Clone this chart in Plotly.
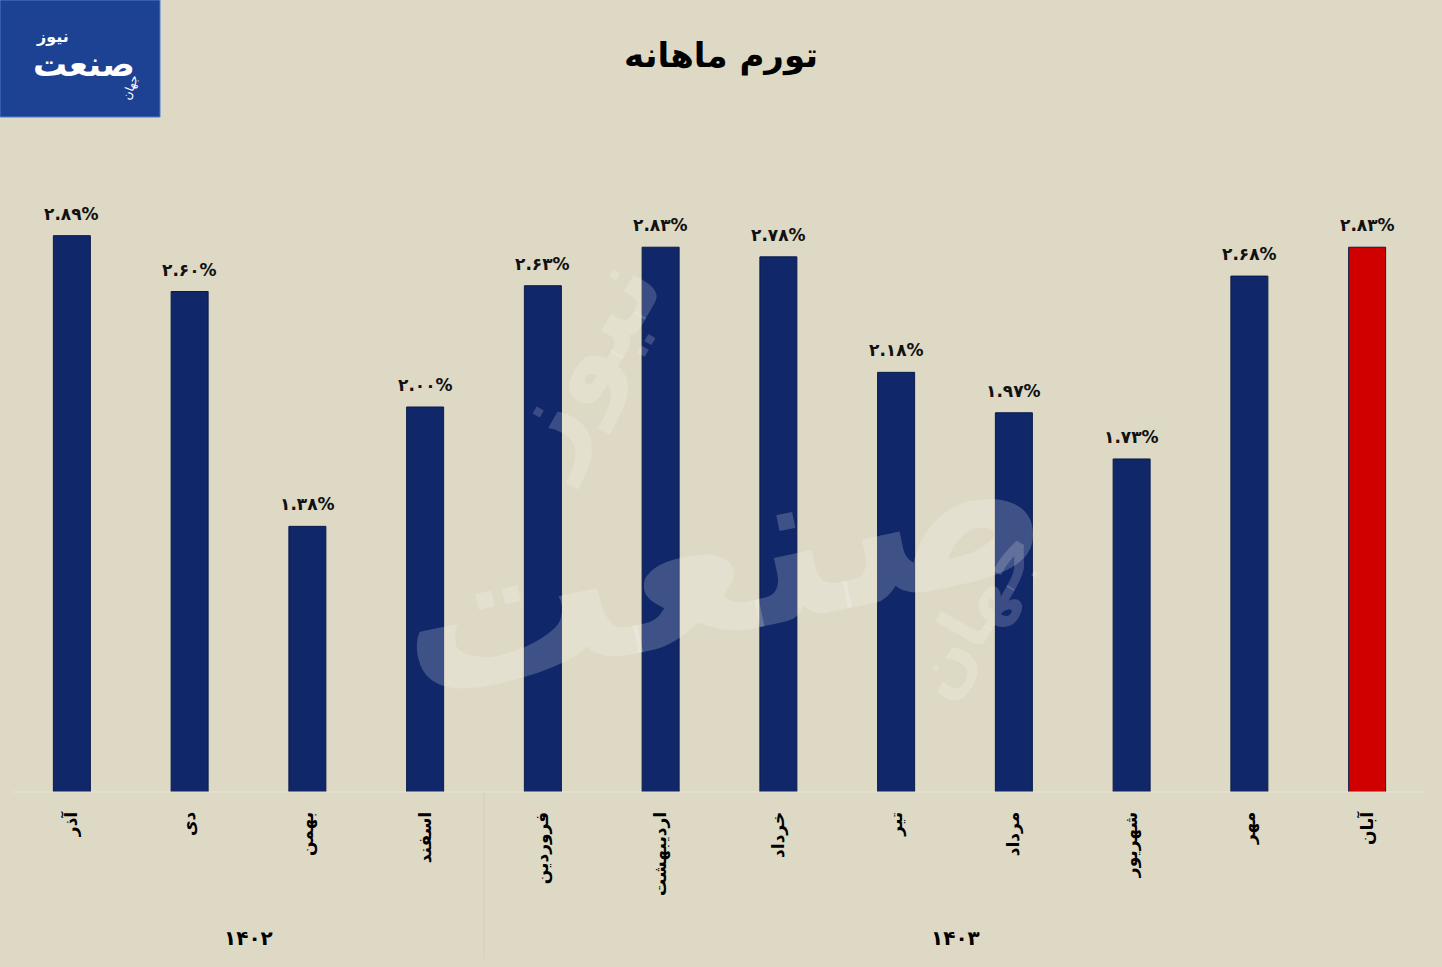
import plotly.graph_objects as go

months = ["آذر", "دی", "بهمن", "اسفند", "فروردین", "اردیبهشت", "خرداد", "تیر", "مرداد", "شهریور", "مهر", "آبان"]
values = [2.89, 2.60, 1.38, 2.00, 2.63, 2.83, 2.78, 2.18, 1.97, 1.73, 2.68, 2.83]
colors = ["#10276a"] * 11 + ["#d00000"]
groups = ["۱۴۰۲", "۱۴۰۳"]
group_centers = [1.5, 7.5]
title = "تورم ماهانه"

BG = "#DDD9C4"
FONT = "DejaVu Sans"

def fa_digits(s):
    return s.translate(str.maketrans("0123456789", "۰۱۲۳۴۵۶۷۸۹"))

labels = [fa_digits(f"{v:.2f}") + "%" for v in values]

fig = go.Figure()
fig.add_trace(go.Bar(
    x=months, y=values,
    marker=dict(color=colors, line=dict(color="#0a1a4a", width=1)),
    hoverinfo="skip",
))

# value labels
for m, v, t in zip(months, values, labels):
    fig.add_annotation(x=m, y=v, text=t, showarrow=False, xanchor="center", yanchor="bottom", yshift=10,
                       font=dict(family=FONT, size=17, color="#111", weight="bold"))

# group labels
for g, c in zip(groups, group_centers):
    fig.add_annotation(x=c, y=-0.26, yref="paper", text=g, showarrow=False, xanchor="center",
                       font=dict(family=FONT, size=20, color="#000", weight="bold"))

fig.update_layout(
    width=1442, height=967,
    paper_bgcolor=BG, plot_bgcolor=BG,
    margin=dict(l=13, r=16, t=176, b=175),
    showlegend=False,
    bargap=0.686,
    title=dict(text=title, x=0.5, xanchor="center", y=1 - 55 / 967, yanchor="middle",
               font=dict(family=FONT, size=34, color="#000", weight="bold")),
    xaxis=dict(
        tickangle=-90, ticks="outside", ticklen=12, tickcolor=BG,
        tickfont=dict(family=FONT, size=17, color="#000", weight="bold"),
        showgrid=False, showline=False, zeroline=False, fixedrange=True,
    ),
    yaxis=dict(range=[0, 3.2], visible=False, showgrid=False, zeroline=False, fixedrange=True),
)

# faint axis area frame and divider
fig.add_shape(type="line", xref="paper", yref="paper", x0=0, x1=1, y0=0, y1=0,
              line=dict(color="#e8e5d6", width=1))
fig.add_shape(type="line", xref="x", yref="paper", x0=3.5, x1=3.5, y0=0, y1=-0.27,
              line=dict(color="#d3cfba", width=1))

# watermark
fig.add_annotation(x=0.5, y=0.38, xref="paper", yref="paper", text="صنعت", showarrow=False,
                   xanchor="center", yanchor="middle",
                   textangle=-12, font=dict(family=FONT, size=220, color="rgba(255,255,255,0.20)", weight="bold"))
fig.add_annotation(x=0.40, y=0.70, xref="paper", yref="paper", text="نیوز", showarrow=False,
                   xanchor="center", yanchor="middle",
                   textangle=-60, font=dict(family=FONT, size=110, color="rgba(255,255,255,0.18)", weight="bold"))
fig.add_annotation(x=0.68, y=0.29, xref="paper", yref="paper", text="جهان", showarrow=False,
                   xanchor="center", yanchor="middle",
                   textangle=-60, font=dict(family=FONT, size=70, color="rgba(255,255,255,0.18)", weight="bold"))

# logo
px = lambda x: (x - 13) / 1413
py = lambda y: (792 - y) / 616
fig.add_shape(type="rect", xref="paper", yref="paper",
              x0=px(0), x1=px(160), y0=py(117), y1=py(0),
              fillcolor="#1d4193", line=dict(color="#4f7fd0", width=1), layer="above")
fig.add_annotation(x=px(84), y=py(64), xref="paper", yref="paper", text="صنعت",
                   xanchor="center", yanchor="middle",
                   showarrow=False, font=dict(family=FONT, size=34, color="white", weight="bold"))
fig.add_annotation(x=px(52), y=py(36), xref="paper", yref="paper", text="نیوز",
                   xanchor="center", yanchor="middle",
                   showarrow=False, font=dict(family=FONT, size=16, color="white", weight="bold"))
fig.add_annotation(x=px(130), y=py(88), xref="paper", yref="paper", text="جهان",
                   xanchor="center", yanchor="middle", textangle=-70,
                   showarrow=False, font=dict(family=FONT, size=12, color="white"))

fig.write_html("out.html", config={"displayModeBar": False},
               post_script="document.body.style.margin='0';document.body.style.overflow='hidden';")
